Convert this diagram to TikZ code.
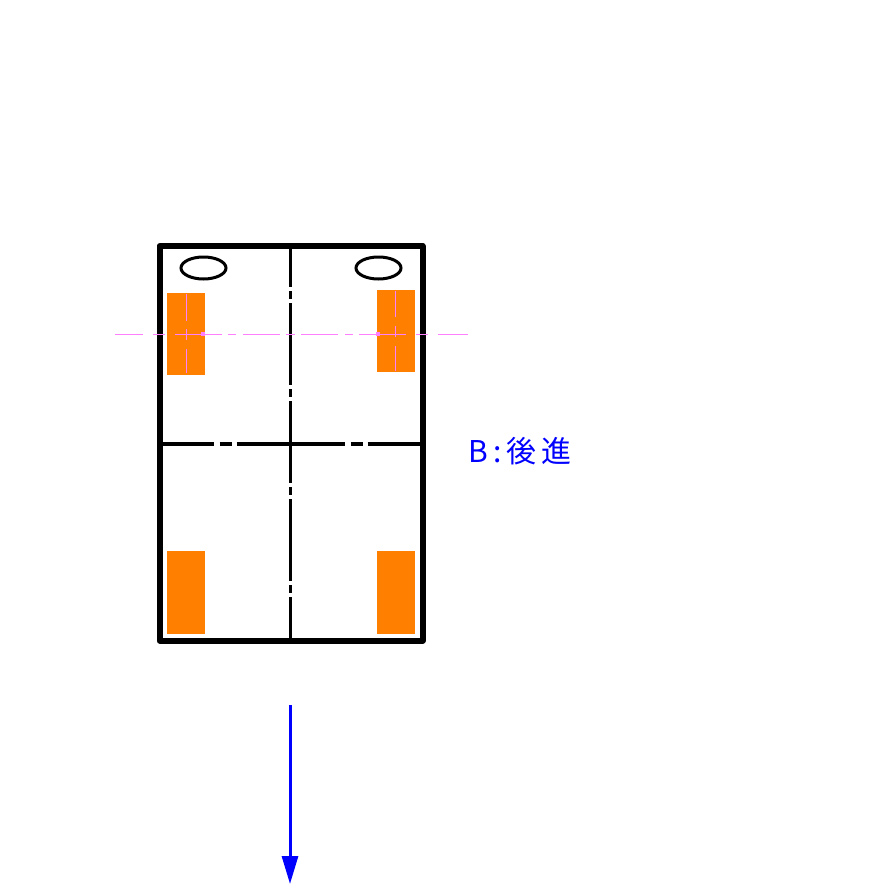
\documentclass[tikz,border=0pt]{standalone}
\usepackage{fontspec}
\usepackage{xcolor}
\usetikzlibrary{arrows.meta,positioning}
\newfontfamily\cjk[LetterSpace=17]{Noto Sans CJK JP}
\definecolor{wheelorange}{HTML}{FF8000}
\definecolor{axismagenta}{HTML}{FF80FF}

\begin{document}
\begin{tikzpicture}[
  x=1pt,y=-1pt,
  frame/.style={draw,line width=6pt,line join=round},
  centerv/.style={draw,line width=3.2pt,dash pattern=on 82pt off 4pt on 8pt off 4pt,dash phase=40pt},
  centerh/.style={draw,line width=3.2pt,dash pattern=on 108pt off 6pt on 12pt off 5pt,dash phase=54pt},
  pad/.style={fill=wheelorange},
  axisline/.style={draw=axismagenta,line width=1.2pt},
  axisdot/.style={fill=axismagenta,minimum size=4pt,inner sep=0pt},
  hole/.style={draw,line width=3pt},
  travel/.style={draw=blue,line width=3pt,-{Triangle[length=28pt,width=16pt]}}
]
\useasboundingbox (0,0) rectangle (870,886);

\fill[pad] (167,293) rectangle (205,375);
\fill[pad] (377,290) rectangle (415,372);
\fill[pad] (167,551) rectangle (205,634);
\fill[pad] (377,551) rectangle (415,634);

\draw[hole] (203.5,268) ellipse (22.5 and 11);
\draw[hole] (378.5,268) ellipse (22.5 and 11);

\coordinate (Vt) at (290.5,245);
\coordinate (Vb) at (290.5,640);
\coordinate (Hl) at (159.5,444);
\coordinate (Hr) at (422.5,444);
\draw[centerv] (Vt) -- (Vb);
\draw[centerh] (Hl) -- (Hr);
\draw[frame] (159.5,246) rectangle (422.5,640.5);

\foreach \a/\b in {115/143,153/165,175/222,228/236,243/280,286/295,301/338,345/353,359/406,416/428,438/468}
  \draw[axisline] (\a,334.3) -- (\b,334.3);
\foreach \a/\b in {294/321,329/340,349/373}
  \draw[axisline] (186.5,\a) -- (186.5,\b);
\foreach \a/\b in {291/317,326/337,346/371}
  \draw[axisline] (395.7,\a) -- (395.7,\b);
\node[axisdot] (DL) at (203,334) {};
\node[axisdot] (DR) at (378,334) {};

\node[text=blue,anchor=west,inner sep=0pt,font=\cjk\fontsize{30}{30}\selectfont] (Lab) at (468,451) {B:後進};

\coordinate (At) at (290,705);
\coordinate (Ab) at (290,884);
\draw[travel] (At) -- (Ab);
\end{tikzpicture}
\end{document}
